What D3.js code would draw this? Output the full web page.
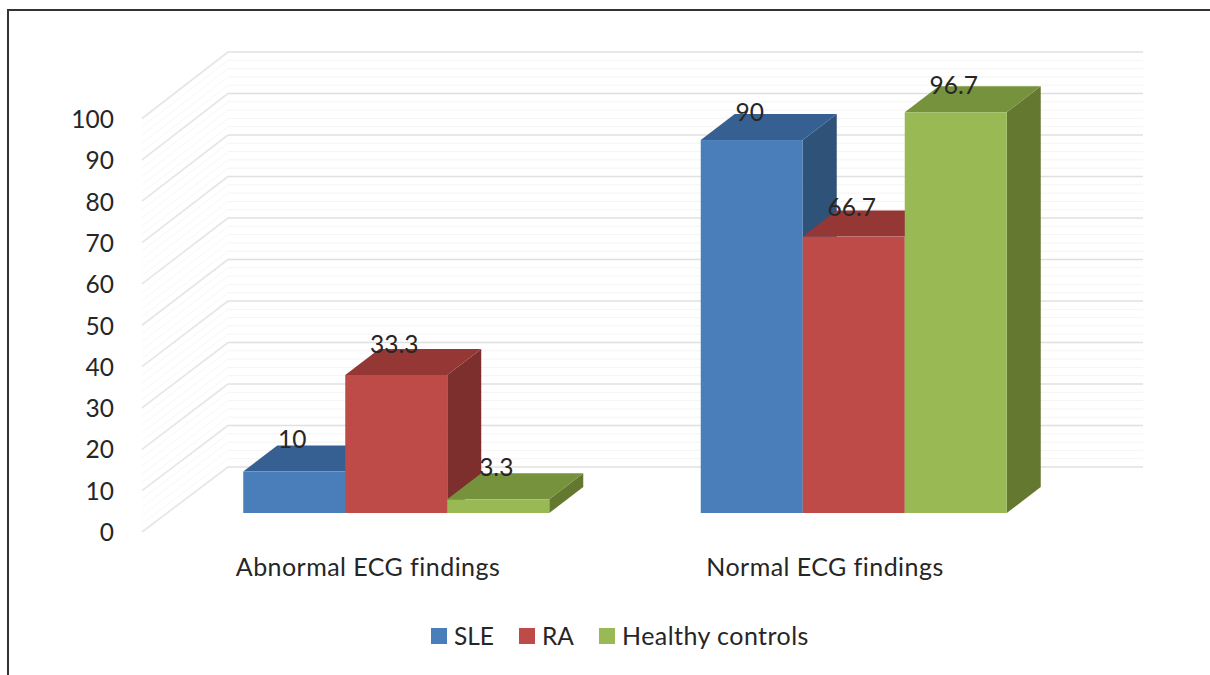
<!DOCTYPE html>
<html>
<head>
<meta charset="utf-8">
<script src="https://cdn.jsdelivr.net/npm/d3@7"></script>
<style>
    html, body {margin: 0; padding: 0; background: #fff;}
    svg {display: block;}
    text {font-family: Lato, "Open Sans", sans-serif; font-size: 24.5px; fill: #262626;}
    .axis path, .axis line {display: none;}
    .axis text {font-family: Lato, "Open Sans", sans-serif; font-size: 24.5px; fill: #262626;}
    .axis.x text, .legend .long {font-size: 25px; letter-spacing: 0.45px;}
</style>
</head>
<body>
<svg id="chart" width="1210" height="675"></svg>
<script>
'use strict';

var categories = ['Abnormal ECG findings', 'Normal ECG findings'];
var seriesNames = ['SLE', 'RA', 'Healthy controls'];
var sleValues = [10, 90];
var raValues = [33.3, 66.7];
var controlValues = [3.3, 96.7];
var yTicks = [0, 10, 20, 30, 40, 50, 60, 70, 80, 90, 100];

var frontColours = ['#4a7ebb', '#be4b48', '#98b954'];
var topColours = ['#376092', '#953735', '#76923c'];
var sideColours = ['#2f5279', '#7d2f2d', '#64782f'];

var seriesValues = [sleValues, raValues, controlValues];

var svg = d3.select('#chart');

// Depth of the bars, in pixels on screen.
var depthX = 34;
var depthY = -26;

// Wall corners of the fake 3D box.
var wallLeft = 228;
var wallRight = 1143;
var sideLeft = 142;

var yBar = d3.scaleLinear().domain([0, 100]).range([513, 98.6]);
var yAxisScale = d3.scaleLinear().domain([0, 100]).range([530, 117]);
var yWall = d3.scaleLinear().domain([0, 100]).range([467, 52]);
var ySide = d3.scaleLinear().domain([0, 100]).range([532, 118.5]);
var yLabel = d3.scaleLinear().domain([0, 100]).range([480.5, 71.5]);

var xGroup = d3.scaleBand().domain(categories).range([167.5, 1082.5]);
var xSeries = d3.scaleBand().domain(seriesNames).range([75.75, 381.75]);
var xLabel = d3.scaleBand().domain(categories).range([139.5, 1053.5]);

// The frame round the figure.
svg.append('path')
    .attr('d', 'M8,675V10H1210')
    .attr('fill', 'none')
    .attr('stroke', '#333')
    .attr('stroke-width', 2);

function drawGrid() {
    var grid = svg.append('g').attr('class', 'grid');
    var minorTicks = yWall.ticks(50).filter(function(d) {return d % 10 !== 0;});

    // Minor lines first so the major ones sit on top.
    [minorTicks, yTicks].forEach(function(ticks, i) {
        var colour = i === 0 ? '#f4f4f4' : '#e0e0e0';
        var sideColour = i === 0 ? '#f7f7f7' : '#e6e6e6';
        var width = i === 0 ? 1 : 1.6;

        grid.selectAll('line.wall' + i)
            .data(ticks)
            .enter()
            .append('line')
                .attr('class', 'wall' + i)
                .attr('x1', wallLeft)
                .attr('x2', wallRight)
                .attr('y1', function(d) {return yWall(d);})
                .attr('y2', function(d) {return yWall(d);})
                .attr('stroke', colour)
                .attr('stroke-width', width);

        grid.selectAll('line.side' + i)
            .data(ticks)
            .enter()
            .append('line')
                .attr('class', 'side' + i)
                .attr('x1', sideLeft)
                .attr('x2', wallLeft)
                .attr('y1', function(d) {return ySide(d);})
                .attr('y2', function(d) {return yWall(d);})
                .attr('stroke', sideColour)
                .attr('stroke-width', width);
    });
}

function drawAxes() {
    svg.append('g')
        .attr('class', 'axis y')
        .attr('transform', 'translate(117,2)')
        .call(d3.axisLeft(yAxisScale).tickValues(yTicks).tickSize(0).tickPadding(3))
        .selectAll('text')
            .attr('dy', '0.35em');

    svg.append('g')
        .attr('class', 'axis x')
        .attr('transform', 'translate(0,576)')
        .call(d3.axisBottom(xLabel).tickSize(0).tickPadding(0))
        .selectAll('text')
            .attr('y', 0)
            .attr('dy', 0);
}

function facePath(points) {
    return d3.line()(points) + 'Z';
}

function drawBars() {
    var width = xSeries.bandwidth();

    // Painted series by series, the later bar hides what is behind it.
    categories.forEach(function(category, c) {
        var group = svg.append('g').attr('class', 'bars');

        seriesNames.forEach(function(name, s) {
            var value = seriesValues[s][c];
            var x0 = xGroup(category) + xSeries(name);
            var x1 = x0 + width;
            var yTop = yBar(value);
            var yBase = yBar(0);

            group.append('path')
                .attr('d', facePath([[x1, yTop], [x1 + depthX, yTop + depthY], [x1 + depthX, yBase + depthY], [x1, yBase]]))
                .attr('fill', sideColours[s]);

            group.append('path')
                .attr('d', facePath([[x0, yTop], [x0 + depthX, yTop + depthY], [x1 + depthX, yTop + depthY], [x1, yTop]]))
                .attr('fill', topColours[s]);

            group.append('rect')
                .attr('x', x0)
                .attr('y', yTop)
                .attr('width', width)
                .attr('height', yBase - yTop)
                .attr('fill', frontColours[s]);
        });
    });
}

// Labels go last, they overlap the tops of the bars.
function drawValueLabels() {
    var width = xSeries.bandwidth();

    categories.forEach(function(category, c) {
        seriesNames.forEach(function(name, s) {
            var value = seriesValues[s][c];

            svg.append('text')
                .attr('x', xGroup(category) + xSeries(name) + width / 2 - 2)
                .attr('y', yLabel(value))
                .attr('dy', '0.35em')
                .attr('text-anchor', 'middle')
                .text(value);
        });
    });
}

function drawLegend() {
    var legend = svg.append('g').attr('class', 'legend');
    var itemX = d3.scaleOrdinal().domain(seriesNames).range([431, 519, 599]);

    var items = legend.selectAll('g')
        .data(seriesNames)
        .enter()
        .append('g')
            .attr('transform', function(d) {return 'translate(' + itemX(d) + ',628)';});

    items.append('rect')
        .attr('width', 16)
        .attr('height', 16)
        .attr('fill', function(d, i) {return frontColours[i];});

    items.append('text')
        .attr('x', 23)
        .attr('y', 17)
        .classed('long', function(d) {return d.length > 3;})
        .text(function(d) {return d;});
}

drawGrid();
drawAxes();
drawBars();
drawValueLabels();
drawLegend();
</script>
</body>
</html>
